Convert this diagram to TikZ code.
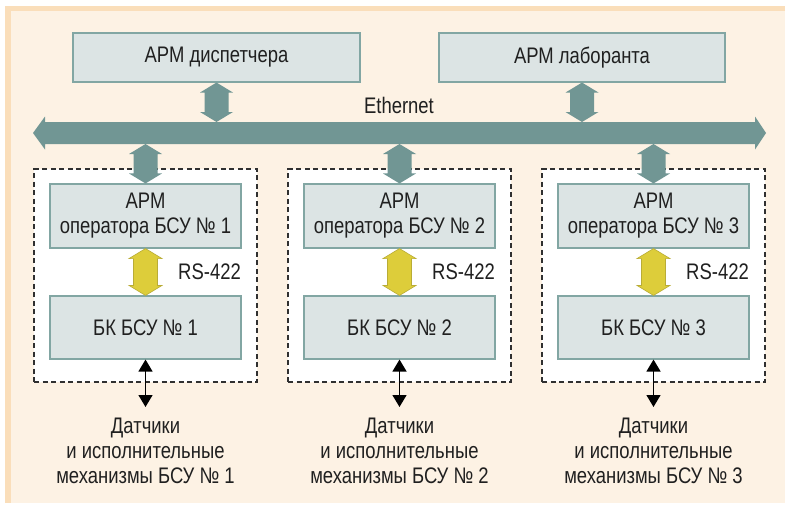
\documentclass[tikz,border=0pt]{standalone}
\usepackage{fontspec}
\setmainfont[FakeStretch=0.82]{Liberation Sans}
\usetikzlibrary{arrows.meta,calc}
\definecolor{bgc}{HTML}{FDF2E4}
\definecolor{bgedge}{HTML}{FADEBA}
\definecolor{boxfill}{HTML}{DCE4E4}
\definecolor{boxline}{HTML}{82A6A3}
\definecolor{busc}{HTML}{719694}
\definecolor{yel}{HTML}{DDCD3A}
\definecolor{yeld}{HTML}{B9AC36}
\definecolor{txt}{HTML}{202020}
\definecolor{dashc}{HTML}{303030}
\tikzset{
 fatV/.style={to path={let \p1=(\tikztostart), \p2=(\tikztotarget) in
   (\x1,\y1) -- (\x1+16.5pt,\y1-10pt) -- (\x1+12pt,\y1-10pt) -- (\x1+12pt,\y2+10pt) -- (\x1+16.5pt,\y2+10pt) -- (\x1,\y2) -- (\x1-16.5pt,\y2+10pt) -- (\x1-12pt,\y2+10pt) -- (\x1-12pt,\y1-10pt) -- (\x1-16.5pt,\y1-10pt) -- cycle}},
 fatH/.style={to path={let \p1=(\tikztostart), \p2=(\tikztotarget) in
   (\x1,\y1) -- (\x1+12pt,\y1+16.5pt) -- (\x1+12pt,\y1+11pt) -- (\x2-11pt,\y1+11pt) -- (\x2-11pt,\y1+16.5pt) -- (\x2,\y1) -- (\x2-11pt,\y1-16.5pt) -- (\x2-11pt,\y1-11pt) -- (\x1+12pt,\y1-11pt) -- (\x1+12pt,\y1-16.5pt) -- cycle}},
 lbl/.style={text=txt, inner sep=0pt, align=center, font=\fontsize{22.5}{25}\selectfont},
 box/.style={lbl, draw=boxline, fill=boxfill, line width=1.1pt},
 group/.style={draw=dashc, fill=white, line width=1.2pt, dash pattern=on 5pt off 3.5pt, inner sep=0pt},
 sensarrow/.style={draw=black, line width=1.4pt, {Triangle[width=14pt,length=12pt]}-{Triangle[width=14pt,length=12pt]}},
}
\begin{document}
\begin{tikzpicture}[x=1pt,y=-1pt]
\useasboundingbox (0,0) rectangle (785,506);
\fill[white] (0,0) rectangle (785,506);
\fill[bgc] (5,6) rectangle (785,503);
\fill[bgedge] (5,6) rectangle (785,11);
\fill[bgedge] (5,6) rectangle (11,503);

% top boxes
\node[box, minimum width=287pt, minimum height=49pt] (disp) at (216.5,57.5) {АРМ диспетчера};
\node[box, minimum width=286pt, minimum height=49pt] (lab) at (582,57.5) {АРМ лаборанта};

% Ethernet bus
\coordinate (busL) at (33,133);
\coordinate (busR) at (766,133);
\coordinate (bustop) at (400,122);
\coordinate (busbot) at (400,144);
\fill[busc] (busL) to[fatH] (busR);
\node[lbl, anchor=base] (eth) at (399,113.3) {Ethernet};

\fill[busc] (disp.south) to[fatV] (disp.south |- bustop);
\fill[busc] (lab.south) to[fatV] (lab.south |- bustop);

\foreach \i/\cx in {1/145.5, 2/399.5, 3/653.5}{
  \node[group, minimum width=223pt, minimum height=213pt] (grp\i) at (\cx,275.5) {};
  \node[box, minimum width=191pt, minimum height=64pt] (op\i) at (\cx,216) {АРМ\\оператора БСУ № \i};
  \node[box, minimum width=191pt, minimum height=63pt] (bk\i) at (\cx,327.5) {БК БСУ № \i};
  \fill[busc] (op\i.north |- busbot) to[fatV] (op\i.north);
  \filldraw[fill=yel, draw=yeld, line width=0.6pt] (op\i.south) to[fatV] (bk\i.north);
  \node[lbl, anchor=east] (rs\i) at (\cx+95.5,271.5) {RS-422};
  \coordinate (sa\i) at (\cx,407);
  \draw[sensarrow] (bk\i.south) -- (sa\i);
  \node[lbl] (sen\i) at (\cx,450.8) {Датчики\\и исполнительные\\механизмы БСУ № \i};
}
\end{tikzpicture}
\end{document}
